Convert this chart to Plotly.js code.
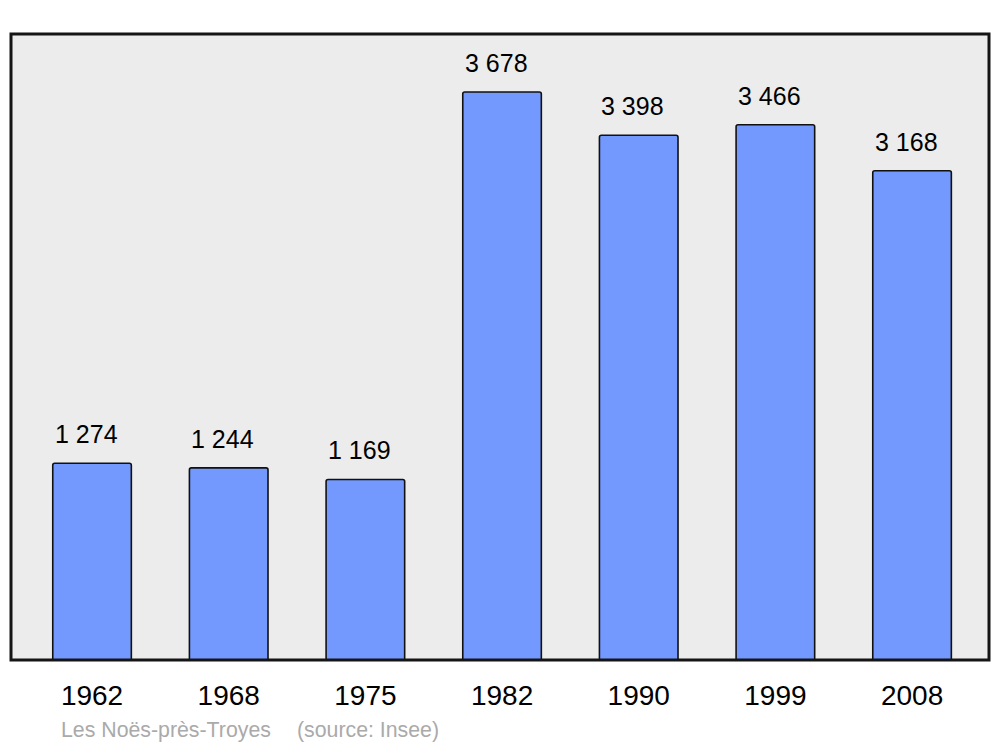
<!DOCTYPE html>
<html>
<head>
<meta charset="utf-8">
<script src="https://cdn.plot.ly/plotly-3.0.1.min.js"></script>
<style>html,body{margin:0;padding:0;background:#fff;}#chart{width:1000px;height:747px;}</style>
</head>
<body>
<div id="chart"></div>
<script>
const years = ["1962", "1968", "1975", "1982", "1990", "1999", "2008"];
const population = [1274, 1244, 1169, 3678, 3398, 3466, 3168];
const valueLabels = ["1 274", "1 244", "1 169", "3 678", "3 398", "3 466", "3 168"];
const footerPlace = "Les Noës-près-Troyes";
const footerSource = "(source: Insee)";

const idx = years.map((_, i) => i);
const font = "Liberation Sans, Arial, sans-serif";

const trace = {
  type: "bar",
  x: idx,
  y: population,
  width: 0.575,
  marker: { color: "#7399ff", line: { color: "#111", width: 1.6 }, cornerradius: 2 },
  hoverinfo: "skip"
};

const annotations = idx.map(i => ({
  x: i, y: population[i], xref: "x", yref: "y",
  text: valueLabels[i], showarrow: false,
  yshift: 29, xshift: -6,
  font: { family: font, size: 25, color: "#000" }
}));
annotations.push({
  xref: "paper", yref: "paper", x: 0.049, y: -0.112, xanchor: "left", yanchor: "middle",
  text: footerPlace, showarrow: false, font: { family: font, size: 21.3, color: "#aaaaaa" }
});
annotations.push({
  xref: "paper", yref: "paper", x: 0.290, y: -0.112, xanchor: "left", yanchor: "middle",
  text: footerSource, showarrow: false, font: { family: font, size: 21.3, color: "#aaaaaa" }
});

const layout = {
  width: 1000, height: 747,
  margin: { l: 11, r: 11, t: 34, b: 87, pad: 0 },
  paper_bgcolor: "#ffffff",
  plot_bgcolor: "#ececec",
  showlegend: false,
  xaxis: {
    range: [-0.593, 6.563],
    tickvals: idx, ticktext: years,
    ticks: "outside", ticklen: 10, tickcolor: "rgba(0,0,0,0)",
    tickfont: { family: font, size: 28, color: "#000" },
    showgrid: false, zeroline: false, showline: false, fixedrange: true
  },
  yaxis: {
    range: [0, 4054],
    showticklabels: false, showgrid: false, zeroline: false, showline: false, ticks: "", fixedrange: true
  },
  shapes: [{
    type: "rect", xref: "paper", yref: "paper", x0: 0, x1: 1, y0: 0, y1: 1,
    line: { color: "#151515", width: 3 }, fillcolor: "rgba(0,0,0,0)", layer: "above"
  }],
  annotations: annotations
};

Plotly.newPlot("chart", [trace], layout, { staticPlot: true, displayModeBar: false });
</script>
</body>
</html>
